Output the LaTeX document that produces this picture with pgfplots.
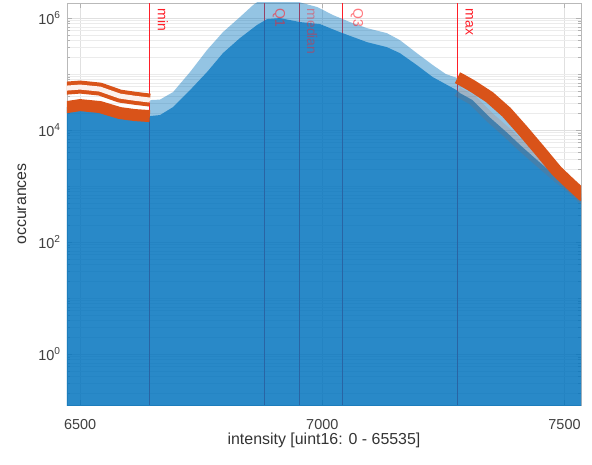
\documentclass[border=0pt]{standalone}
\usepackage{pgfplots}
\pgfplotsset{compat=1.18}
\usepackage{fontspec}
\setmainfont{Liberation Sans}
\definecolor{mblue}{RGB}{0,114,189}
\definecolor{morange}{RGB}{217,83,25}
\definecolor{mred}{RGB}{255,30,40}
\begin{document}
\begin{tikzpicture}
\begin{axis}[name=ax, scale only axis, width=514bp, height=402bp,
 ymode=log, xmin=6473, xmax=7534, ymin=0.123, ymax=1.86e6,
 xtick={6500,7000,7500}, xticklabels={6500,7000,7500},
 ytick={1,100,10000,1000000},
 yticklabels={10\textsuperscript{0},10\textsuperscript{2},10\textsuperscript{4},10\textsuperscript{6}},
 minor ytick={0.2,0.3,0.4,0.5,0.6,0.7,0.8,0.9,2,3,4,5,6,7,8,9,10,20,30,40,50,60,70,80,90,200,300,400,500,600,700,800,900,1000,2000,3000,4000,5000,6000,7000,8000,9000,20000,30000,40000,50000,60000,70000,80000,90000,100000,200000,300000,400000,500000,600000,700000,800000,900000},
 ymajorgrids=true, yminorgrids=true, xmajorgrids=true,
 major grid style={black!12, line width=0.4bp}, minor grid style={black!8, line width=0.4bp},
 tick align=inside, major tick length=5bp, minor tick length=3bp,
 tick style={gray!60}, axis line style={gray!55},
 ticklabel style={font=\fontsize{14.5}{17}\selectfont, text=black!75},
 xticklabel style={yshift=-11bp}, yticklabel style={xshift=-3bp},
 xlabel={intensity [uint16: 0 - 65535]}, ylabel={occurances},
 every axis x label/.style={at={(axis description cs:0.5,-0.087)}, anchor=center, font=\fontsize{16}{18}\selectfont, text=black!80},
 every axis y label/.style={at={(axis description cs:-0.0875,0.5)}, rotate=90, anchor=center, font=\fontsize{16}{18}\selectfont, text=black!80},
]
% statistic lines beneath the translucent histograms
\addplot[color=mred, mark=none, line width=1bp, forget plot] coordinates {(6644,0.123) (6644,1.86e6)};
\addplot[color=mred, mark=none, line width=1bp, forget plot] coordinates {(6881,0.123) (6881,1.86e6)};
\addplot[color=mred, mark=none, line width=1bp, forget plot] coordinates {(6952,0.123) (6952,1.86e6)};
\addplot[color=mred, mark=none, line width=1bp, forget plot] coordinates {(7042,0.123) (7042,1.86e6)};
\addplot[color=mred, mark=none, line width=1bp, forget plot] coordinates {(7279,0.123) (7279,1.86e6)};
% histogram 1 (light)
\addplot[draw=none, fill=mblue, fill opacity=0.42] coordinates {
(6460,0.01) (6460,25000) (6473,25760) (6500,27930) (6541,25760) (6582,20140) (6613,18530) (6643,17780) (6645,34360)
(6665,35000) (6692,47750) (6727,108600) (6762,268500) (6795,562300) (6830,1042000) (6857,1706000)
(6881,2399000) (6912,2630000) (6954,1906000) (6990,1570000) (7022,1132000) (7057,849200) (7092,662200)
(7133,539500) (7160,404600) (7195,237100) (7228,144900) (7255,100000) (7284,82000) (7310,61090)
(7345,38820) (7380,20940) (7413,10000) (7448,4395) (7484,1854) (7510,1132) (7537,690) (7550,600) (7550,0.01)};
% histogram 2 (overlapping)
\addplot[draw=none, fill=mblue, fill opacity=0.72] coordinates {
(6460,0.01) (6460,25000) (6473,25760) (6500,27930) (6541,25760) (6582,20140) (6613,18530) (6644,17780)
(6665,18530) (6692,25760) (6727,51760) (6762,108600) (6795,237100) (6830,439500) (6865,750000)
(6886,959400) (6912,1000000) (6954,849200) (6995,781600) (7036,562300) (7092,372400) (7133,303400)
(7160,237100) (7195,144900) (7228,88310) (7277,51760) (7284,45810) (7310,34360) (7345,17060)
(7380,9204) (7413,4966) (7448,2685) (7484,1449) (7510,959) (7537,586) (7550,500) (7550,0.01)};
% parts of the statistic lines above the histograms
\addplot[draw=mred, draw opacity=0.45, mark=none, line width=1bp, forget plot] coordinates {(6644,35000) (6644,1.86e6)};
\addplot[draw=mred, draw opacity=0.45, mark=none, line width=1bp, forget plot] coordinates {(7042,1.0e6) (7042,1.86e6)};
\addplot[draw=mred, draw opacity=0.45, mark=none, line width=1bp, forget plot] coordinates {(7279,86000) (7279,1.86e6)};
% labels
\node[rotate=-90, anchor=south west, inner sep=1bp, text=mred, font=\fontsize{14}{16}\selectfont] at (axis cs:6658,1.55e6) {min};
\node[rotate=-90, anchor=south west, inner sep=1bp, text=mred, text opacity=0.6, font=\fontsize{14}{16}\selectfont] at (axis cs:6895,1.55e6) {Q1};
\node[rotate=-90, anchor=south west, inner sep=1bp, text=mred, text opacity=0.45, font=\fontsize{14}{16}\selectfont] at (axis cs:6966,1.55e6) {median};
\node[rotate=-90, anchor=south west, inner sep=1bp, text=mred, text opacity=0.6, font=\fontsize{14}{16}\selectfont] at (axis cs:7056,1.55e6) {Q3};
\node[rotate=-90, anchor=south west, inner sep=1bp, text=mred, font=\fontsize{14}{16}\selectfont] at (axis cs:7293,1.55e6) {max};
% out-of-range counts (orange markers)
\addplot[draw=morange, mark=none, line width=13bp, line join=round] coordinates {
(6460,55000) (6473,56230) (6500,58610) (6541,53950) (6582,40460) (6613,37000) (6644,34360)};
\addplot[draw=morange!8, mark=none, line width=5bp, line join=round] coordinates {
(6460,55000) (6473,56230) (6500,58610) (6541,53950) (6582,40460) (6613,37000) (6644,34360)};
\addplot[draw=morange, mark=none, line width=12bp, line join=round] coordinates {
(6460,25000) (6473,25760) (6500,27930) (6541,25760) (6582,20140) (6613,18530) (6644,17780)};
\addplot[draw=morange, mark=none, line width=10bp, opacity=0.15, line join=round] coordinates {
(7279,49000) (7284,45810) (7310,34360) (7345,17060) (7380,9204) (7413,4966) (7448,2685) (7484,1449) (7510,959) (7537,586) (7550,520)};
\addplot[draw=morange, mark=none, line width=12bp, line join=round] coordinates {
(7279,86000) (7284,82000) (7310,61090) (7345,38820) (7380,20940) (7413,10000) (7448,4395) (7484,1854) (7510,1132) (7537,690) (7550,600)};
\end{axis}
\path ([shift={(-67bp,-60bp)}]ax.south west) rectangle ([shift={(11bp,3bp)}]ax.north east);
\end{tikzpicture}
\end{document}
